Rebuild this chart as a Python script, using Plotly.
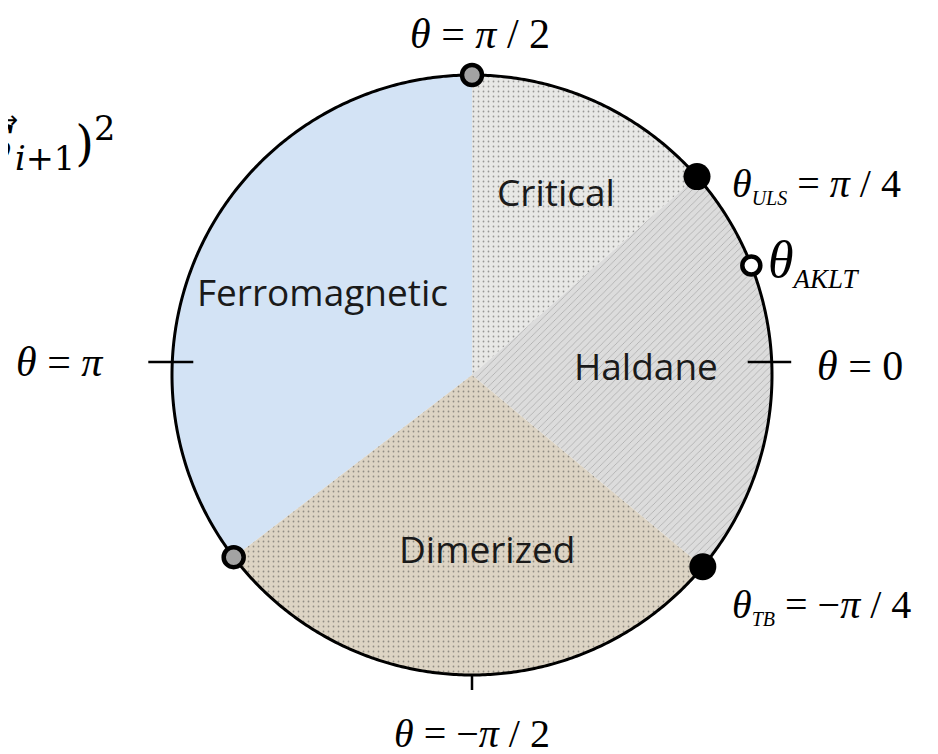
import numpy as np
import plotly.graph_objects as go

# ---------------- data ----------------
phase_names = ["Ferromagnetic", "Critical", "Haldane", "Dimerized"]
phase_start_deg = [90.0, 41.4, -39.7, -142.6]
phase_end_deg = [217.4, 90.0, 41.4, -39.7]
phase_colors = ["#d3e3f5", "#e8e8e6", "#dcdcdc", "#ddd4c4"]
phase_pattern = ["", ".", "/", "."]
phase_pattern_fg = ["#c9dbef", "#cfcfcd", "#cbcbcb", "#cdc1ad"]

point_names = ["θ=π/2", "θ_ULS", "θ_AKLT", "θ_TB", "θ_FM"]
point_theta_deg = [90.0, 41.4, 21.4, -39.7, 217.4]
point_fill = ["#a3a3a3", "#000000", "#ffffff", "#000000", "#a3a3a3"]
point_size = [20, 27, 18, 27, 20]
point_line = [4.5, 0, 4.5, 0, 4.5]

# axis ticks: where they cross the circle, and how far they reach inside / outside
tick_theta_deg = [2.5, 177.5, -90.0]
tick_in = [0.08, 0.07, 0.0]
tick_out = [0.065, 0.08, 0.05]

W, H = 938, 754
OFF = 8  # page body margin in the screenshot


def px(x):
    return (x - OFF) / W


def py(y):
    return 1 - (y - OFF) / H


R_MAX = 1.12
CX, CY, RPX = 472, 375, 300  # screen centre / radius of unit circle
half = RPX * R_MAX

fig = go.Figure()

widths = [e - s for s, e in zip(phase_start_deg, phase_end_deg)]
centers = [(s + e) / 2 for s, e in zip(phase_start_deg, phase_end_deg)]
fig.add_trace(go.Barpolar(
    r=[1] * len(phase_names), theta=centers, width=widths,
    marker=dict(color=phase_colors, line=dict(width=0),
                pattern=dict(shape=phase_pattern, fgcolor=phase_pattern_fg,
                             size=5, solidity=0.1)),
    hovertext=phase_names, showlegend=False,
))

circ_t = np.linspace(0, 360, 721)
fig.add_trace(go.Scatterpolar(
    r=np.ones_like(circ_t), theta=circ_t, mode="lines",
    line=dict(color="black", width=3), showlegend=False, hoverinfo="skip",
))

for t, a, b in zip(tick_theta_deg, tick_in, tick_out):
    tr = np.deg2rad(t)
    x0, y0 = np.cos(tr), np.sin(tr)
    ax = np.deg2rad(round(t / 90) * 90)  # tick runs along the nearest axis
    dx, dy = np.cos(ax), np.sin(ax)
    xs = np.array([x0 - a * dx, x0 + b * dx])
    ys = np.array([y0 - a * dy, y0 + b * dy])
    fig.add_trace(go.Scatterpolar(
        r=np.hypot(xs, ys), theta=np.rad2deg(np.arctan2(ys, xs)), mode="lines",
        line=dict(color="black", width=2.5), showlegend=False,
    ))

fig.add_trace(go.Scatterpolar(
    r=[1] * len(point_names), theta=point_theta_deg, mode="markers",
    marker=dict(color=point_fill, size=point_size, opacity=1,
                line=dict(color="black", width=point_line)),
    text=point_names, cliponaxis=False, showlegend=False, opacity=1,
))

fig.update_layout(
    width=W, height=H, margin=dict(l=0, r=0, t=0, b=0),
    paper_bgcolor="white", plot_bgcolor="white",
    polar=dict(
        domain=dict(x=[px(CX - half), px(CX + half)],
                    y=[py(CY + half), py(CY - half)]),
        bgcolor="rgba(0,0,0,0)",
        radialaxis=dict(range=[0, R_MAX], visible=False, showgrid=False),
        angularaxis=dict(rotation=0, direction="counterclockwise",
                         showticklabels=False, ticks="", showgrid=False,
                         showline=False),
    ),
)

sans = "Open Sans"
serif = "Liberation Serif"
region_pos = {"Critical": (556, 192), "Ferromagnetic": (322, 291),
              "Haldane": (646, 365), "Dimerized": (487, 548)}
for name in phase_names:
    x, y = region_pos[name]
    fig.add_annotation(x=px(x), y=py(y), xref="paper", yref="paper",
                       text=name, showarrow=False,
                       xanchor="center", yanchor="middle",
                       font=dict(family=sans, size=37, color="#1a1a1a"))


def sub(s, size):
    return f"<sub><span style='font-size:{size}px'>{s}</span></sub>"


labels = [
    ("<i>θ</i> = <i>π</i> / 2", 480, 34, "center", 42),
    (f"<i>θ</i>{sub('<i>ULS</i>', 20)} = <i>π</i> / 4", 730, 185, "left", 40),
    (f"<i>θ</i>{sub('<i>AKLT</i>', 27)}", 766, 262, "left", 52),
    ("<i>θ</i> = 0", 815, 366, "left", 42),
    ("<i>θ</i> = <i>π</i>", 14, 362, "left", 42),
    (f"<i>θ</i>{sub('<i>TB</i>', 20)} = −<i>π</i> / 4", 730, 606, "left", 40),
    ("<i>θ</i> = −<i>π</i> / 2", 472, 733, "center", 40),
]
for txt, x, y, anc, sz in labels:
    fig.add_annotation(x=px(x), y=py(y), xref="paper", yref="paper",
                       text=txt, showarrow=False, xanchor=anc, yanchor="middle",
                       font=dict(family=serif, size=sz, color="black"))

# partially visible Hamiltonian term at the left edge
fig.add_annotation(x=px(117), y=py(144), xref="paper", yref="paper",
                   text="<i>S</i><sub><i>i</i>+1</sub>)<sup>2</sup>",
                   showarrow=False, xanchor="right", yanchor="middle",
                   font=dict(family="DejaVu Serif", size=48, color="black"))
fig.add_annotation(x=px(20), y=py(120), xref="paper", yref="paper",
                   text="→", showarrow=False, xanchor="right", yanchor="middle",
                   font=dict(family="DejaVu Sans", size=24, color="black"))

fig.write_html("out.html")
